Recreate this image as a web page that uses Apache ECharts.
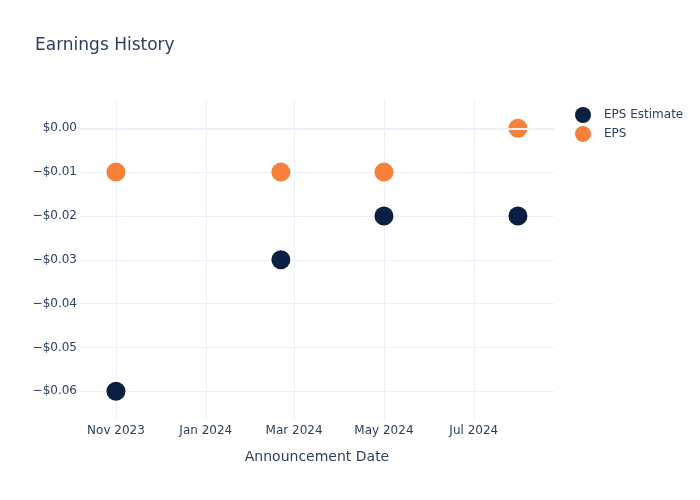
<!DOCTYPE html>
<html>
<head>
<meta charset="utf-8">
<script src="https://cdn.jsdelivr.net/npm/echarts@6/dist/echarts.min.js"></script>
<style>html,body{margin:0;padding:0;background:#fff}#c{width:700px;height:500px}</style>
</head>
<body>
<div id="c"></div>
<script>
const dates = ['2023-11-01', '2024-02-21', '2024-05-01', '2024-07-31'];
const epsEstimate = [-0.06, -0.03, -0.02, -0.02];
const eps = [-0.01, -0.01, -0.01, 0.00];
const xTicks = ['2023-11-01', '2024-01-01', '2024-03-01', '2024-05-01', '2024-07-01'];
const yTicks = [-0.06, -0.05, -0.04, -0.03, -0.02, -0.01, 0.00];

const MONTHS = ['Jan','Feb','Mar','Apr','May','Jun','Jul','Aug','Sep','Oct','Nov','Dec'];
function ts(s) { const p = s.split('-').map(Number); return Date.UTC(p[0], p[1]-1, p[2]); }
const xTickTs = xTicks.map(ts);
const FONT = '"DejaVu Sans", sans-serif';
const TXT = '#2a3f5f';
const GRID = '#EBF0F8';

const chart = echarts.init(document.getElementById('c'), null, {renderer: 'canvas'});
chart.setOption({
  animation: false,
  backgroundColor: '#fff',
  textStyle: {fontFamily: FONT},
  title: {
    text: 'Earnings History', left: 30, top: 32,
    textStyle: {fontFamily: FONT, fontSize: 17, fontWeight: 'normal', color: TXT}
  },
  legend: {
    orient: 'vertical', left: 570, top: 102, itemGap: 3,
    itemWidth: 16, itemHeight: 16, icon: 'circle',
    textStyle: {fontFamily: FONT, fontSize: 12, color: TXT, padding: [0,0,0,8]},
    data: ['EPS Estimate', 'EPS']
  },
  grid: {left: 80, right: 146, top: 100, bottom: 80, containLabel: false},
  xAxis: {
    type: 'value',
    min: ts('2023-10-07') + 14*3600*1000,
    max: ts('2024-08-24') + 12*3600*1000,
    name: 'Announcement Date', nameLocation: 'middle', nameGap: 30,
    nameTextStyle: {fontFamily: FONT, fontSize: 14, color: TXT},
    axisLine: {show: false},
    axisTick: {show: false, customValues: xTickTs},
    axisLabel: {
      customValues: xTickTs, fontFamily: FONT, fontSize: 12, color: TXT, margin: 5,
      formatter: function (v) { const d = new Date(v); return MONTHS[d.getUTCMonth()] + ' ' + d.getUTCFullYear(); }
    },
    splitLine: {show: true, lineStyle: {color: GRID, width: 1}}
  },
  yAxis: {
    type: 'value',
    min: -0.06655, max: 0.00645,
    axisLine: {show: false},
    axisTick: {show: false, customValues: yTicks},
    axisLabel: {
      customValues: yTicks, fontFamily: FONT, fontSize: 12, color: TXT, margin: 3,
      formatter: function (v) {
        const a = Math.abs(v).toFixed(2);
        return (v < -1e-9 ? '\u2212$' : '$') + a;
      }
    },
    splitLine: {show: true, lineStyle: {color: GRID, width: 1}}
  },
  series: [
    {
      name: 'EPS Estimate', type: 'scatter', symbol: 'circle', symbolSize: 19,
      itemStyle: {color: '#0b1f42', opacity: 1},
      data: dates.map((d, i) => [ts(d), epsEstimate[i]]),
      markLine: {
        silent: true, symbol: 'none', label: {show: false},
        lineStyle: {color: GRID, width: 2, type: 'solid'},
        data: [{yAxis: 0}]
      },
      z: 3
    },
    {
      name: 'EPS', type: 'scatter', symbol: 'circle', symbolSize: 19,
      itemStyle: {color: '#f7803a', opacity: 1},
      data: dates.map((d, i) => [ts(d), eps[i]]),
      z: 4
    }
  ]
});
</script>
</body>
</html>
